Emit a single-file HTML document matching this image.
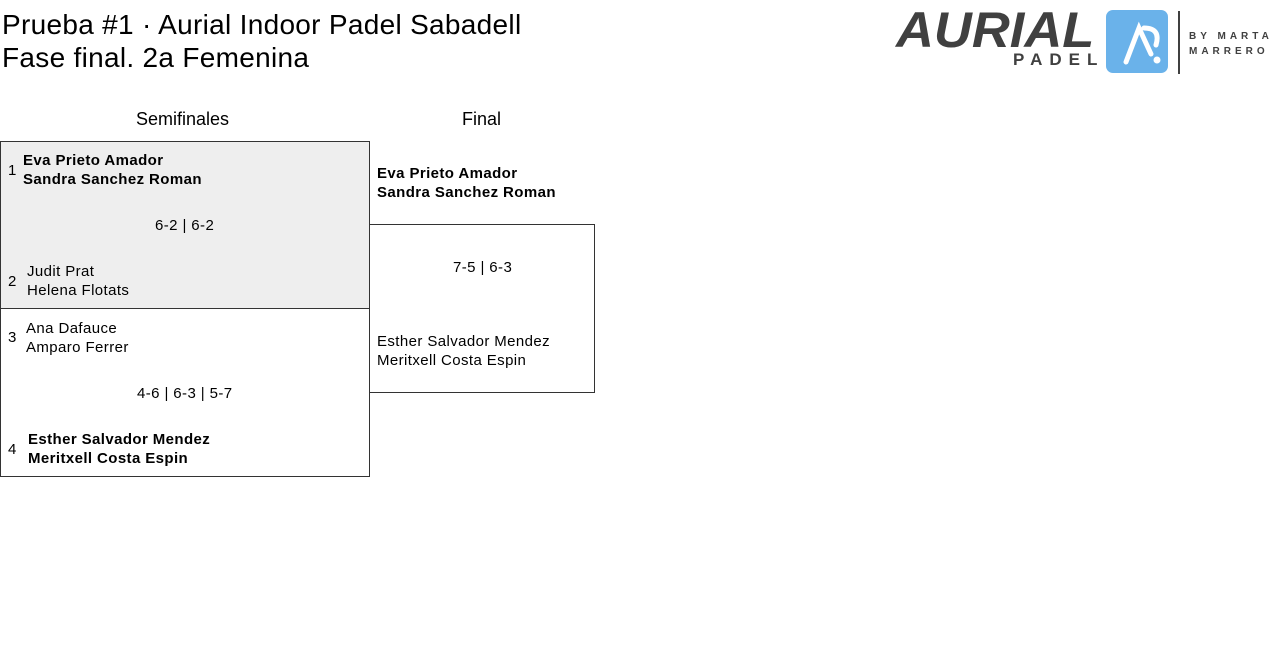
<!DOCTYPE html>
<html><head><meta charset="utf-8"><style>
body{margin:0;width:1280px;height:661px;background:#fff;font-family:"Liberation Sans",sans-serif;color:#000;position:relative;overflow:hidden}
.a{position:absolute;white-space:nowrap}
.t{font-size:28px;line-height:33px;left:2px;letter-spacing:0.3px}
.b{font-weight:bold}
.n{font-size:15px;line-height:19px;letter-spacing:0.4px}
.box{position:absolute;border:1px solid #333;box-sizing:border-box}
</style></head><body>
<div class="a t" style="top:8px">Prueba #1 · Aurial Indoor Padel Sabadell</div>
<div class="a t" style="top:41px">Fase final. 2a Femenina</div>

<div class="a" style="left:896px;top:3px;font-size:50px;font-weight:bold;font-style:italic;color:#404040;letter-spacing:0px;line-height:54px;transform:scaleX(1.05);transform-origin:left">AURIAL</div>
<div class="a" style="left:1013px;top:50px;font-size:17px;font-weight:bold;color:#404040;letter-spacing:7px">PADEL</div>
<div class="a" style="left:1106px;top:10px;width:62px;height:63px;background:#6ab2ea;border-radius:7px"></div>
<svg class="a" style="left:1106px;top:10px" width="62" height="63"><path d="M20 52 L33 18 L45 44 M38 18 Q55 18 50 35" stroke="#fff" stroke-width="5" fill="none" stroke-linecap="round"/><circle cx="51" cy="50" r="3.5" fill="#fff"/></svg>
<div class="a" style="left:1178px;top:11px;width:2px;height:63px;background:#404040"></div>
<div class="a" style="left:1189px;top:29px;font-size:10px;font-weight:bold;color:#404040;letter-spacing:4px;line-height:15px">BY MARTA<br>MARRERO</div>

<div class="a" style="left:136px;top:109px;font-size:18px">Semifinales</div>
<div class="a" style="left:462px;top:109px;font-size:18px">Final</div>

<div class="box" style="left:0;top:141px;width:370px;height:168px;background:#eee"></div>
<div class="box" style="left:0;top:308px;width:370px;height:169px"></div>
<div class="box" style="left:369px;top:224px;width:226px;height:169px"></div>

<div class="a n" style="left:8px;top:161px">1</div>
<div class="a n b" style="left:23px;top:151px">Eva Prieto Amador<br>Sandra Sanchez Roman</div>
<div class="a n" style="left:155px;top:216px">6-2 | 6-2</div>
<div class="a n" style="left:8px;top:272px">2</div>
<div class="a n" style="left:27px;top:262px">Judit Prat<br>Helena Flotats</div>

<div class="a n" style="left:8px;top:328px">3</div>
<div class="a n" style="left:26px;top:319px">Ana Dafauce<br>Amparo Ferrer</div>
<div class="a n" style="left:137px;top:384px">4-6 | 6-3 | 5-7</div>
<div class="a n" style="left:8px;top:440px">4</div>
<div class="a n b" style="left:28px;top:430px">Esther Salvador Mendez<br>Meritxell Costa Espin</div>

<div class="a n b" style="left:377px;top:164px">Eva Prieto Amador<br>Sandra Sanchez Roman</div>
<div class="a n" style="left:453px;top:258px">7-5 | 6-3</div>
<div class="a n" style="left:377px;top:332px">Esther Salvador Mendez<br>Meritxell Costa Espin</div>
</body></html>
